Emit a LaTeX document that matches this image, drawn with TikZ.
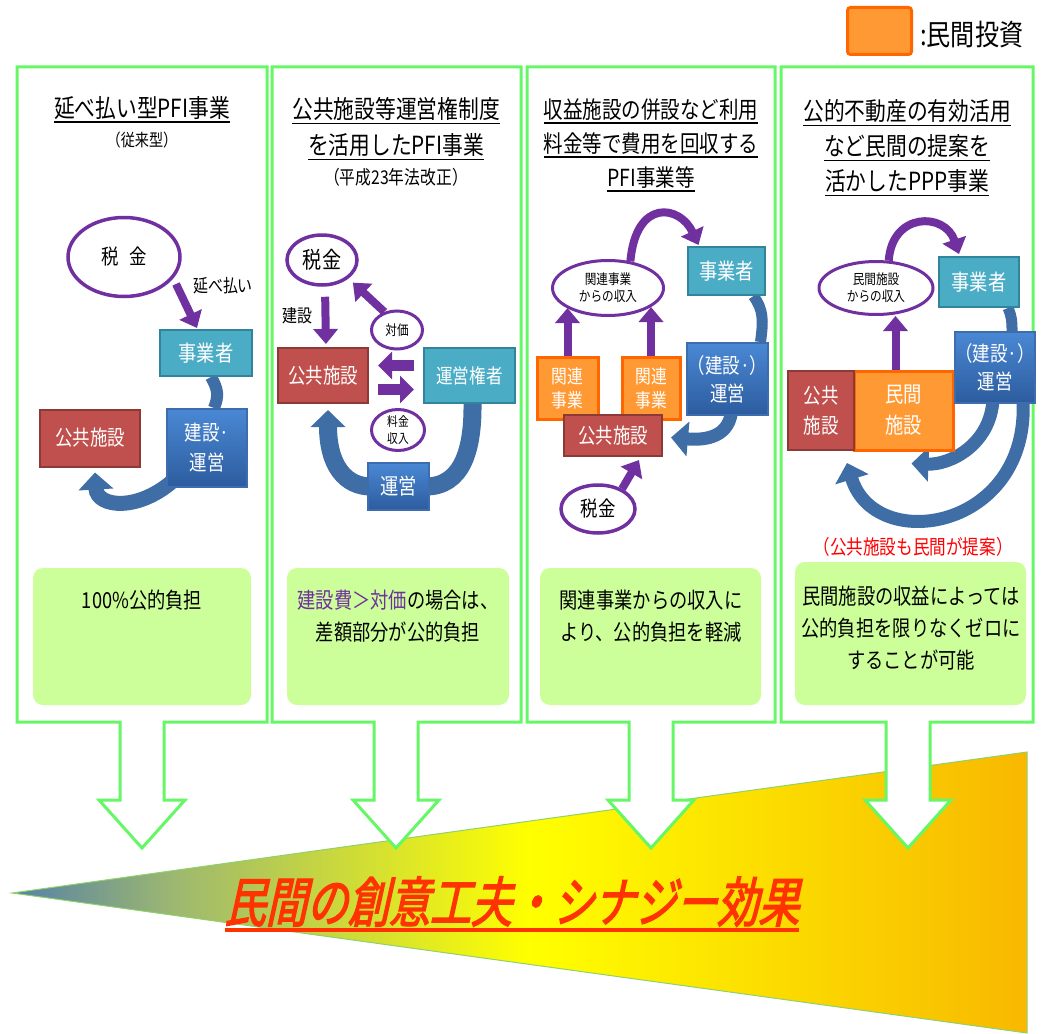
\documentclass[tikz,border=0pt]{standalone}
\usepackage{fontspec}
\setmainfont{Noto Sans CJK JP}[FakeStretch=0.83]
\newfontfamily\bigjp{Noto Sans CJK JP}[FakeStretch=0.76,FakeSlant=0.22,FakeBold=2.5]
\usetikzlibrary{shapes.geometric,arrows.meta,calc}
\definecolor{pgreen}{HTML}{66F766}
\definecolor{lgreen}{HTML}{CCFF99}
\definecolor{ppurple}{HTML}{7030A0}
\definecolor{cteal}{HTML}{4BACC6}
\definecolor{cteald}{HTML}{31849B}
\definecolor{cred}{HTML}{C0504D}
\definecolor{credd}{HTML}{8C3A38}
\definecolor{cblue1}{HTML}{4A88D4}
\definecolor{cblue2}{HTML}{2C5C9E}
\definecolor{cbluebd}{HTML}{3D6DAE}
\definecolor{cband}{HTML}{3F6DA6}
\definecolor{corange}{HTML}{FF9933}
\definecolor{corangebd}{HTML}{FF6600}
\definecolor{triblue}{HTML}{5580A8}
\definecolor{trimid}{HTML}{9DB870}
\definecolor{triyellow}{HTML}{FFFF00}
\definecolor{triorange}{HTML}{F8B800}
\definecolor{tredge}{HTML}{8FD16A}
\definecolor{cbig}{HTML}{FF3300}
\pgfdeclarehorizontalshading{tri}{100bp}{color(0bp)=(triblue); color(25bp)=(triblue); color(33bp)=(trimid); color(50.5bp)=(triyellow); color(75bp)=(triorange); color(100bp)=(triorange)}
\pgfdeclarelayer{bg}\pgfdeclarelayer{mid}\pgfsetlayers{bg,mid,main}
\newsavebox\ulbox
\newcommand\myul[1]{\sbox\ulbox{#1}\rlap{\rule[-5.5pt]{\wd\ulbox}{1.8pt}}\usebox\ulbox}
\newcommand\bigul[1]{\sbox\ulbox{#1}\rlap{\rule[-10pt]{\wd\ulbox}{4pt}}\usebox\ulbox}
\newcommand\mypanel[3]{\draw[panel] (#1,67) -- (#2,67) -- (#2,722) -- (#3+22,722) -- (#3+22,800) -- (#3+43,800) -- (#3,848) -- (#3-43,800) -- (#3-22,800) -- (#3-22,722) -- (#1,722) -- cycle;}
\tikzset{
 panel/.style={draw=pgreen, line width=3pt, fill=white, line join=miter},
 ttl/.style={align=center, font=\fontsize{25}{35}\selectfont, inner sep=0pt},
 subt/.style={font=\fontsize{17}{20}\selectfont, inner sep=0pt},
 bodytxt/.style={align=center, font=\fontsize{22}{32}\selectfont, inner sep=0pt},
 gbox/.style={fill=lgreen, rounded corners=10pt, draw=none, inner sep=0pt},
 pell/.style={ellipse, draw=ppurple, line width=3.5pt, fill=white, inner sep=0pt, align=center},
 bx/.style={rectangle, line width=2pt, text=white, align=center, inner sep=0pt, font=\fontsize{21}{27}\selectfont},
 tealbox/.style={bx, fill=cteal, draw=cteald},
 redbox/.style={bx, fill=cred, draw=credd},
 bluebox/.style={bx, top color=cblue1, bottom color=cblue2, draw=cbluebd},
 orbox/.style={bx, fill=corange, draw=corangebd, line width=3pt},
 parrow/.style={draw=ppurple, line width=8pt, -{Triangle[width=24pt,length=15pt]}},
 band/.style={draw=cband, line width=15pt},
 barrow/.style={band, -{Triangle[width=34pt,length=17pt]}},
}
\begin{document}
\begin{tikzpicture}[x=1pt,y=-1pt]
\useasboundingbox (0,0) rectangle (1041,1033);
\begin{pgfonlayer}{bg}
 \shade[shading=tri] (12,893) -- (1027,752) -- (1027,1033) -- cycle;
 \draw[tredge, line width=1pt] (12,893) -- (1027,752) -- (1027,1033) -- cycle;
 \mypanel{17}{267}{142}
 \mypanel{272}{521}{396}
 \mypanel{527}{775}{651}
 \mypanel{781}{1033}{908}
\end{pgfonlayer}

% legend
\node[draw=corangebd, fill=corange, line width=3pt, rounded corners=3pt, minimum width=64pt, minimum height=47pt, inner sep=0pt] (leg) at (879.5,31) {};
\node[anchor=west, font=\fontsize{29}{32}\selectfont, inner sep=0pt] (legt) at (920,35) {:民間投資};

% green boxes
\node[gbox, minimum width=218pt, minimum height=137pt] (g1) at (142,636.5) {};
\node[gbox, minimum width=222pt, minimum height=137pt] (g2) at (398,636.5) {};
\node[gbox, minimum width=221pt, minimum height=137pt] (g3) at (650.5,636.5) {};
\node[gbox, minimum width=231pt, minimum height=143pt] (g4) at (910.5,633.5) {};
\node[bodytxt] (b1) at (142,600) {100\%公的負担};
\node[bodytxt] (b2) at (398,616) {{\color{ppurple}建設費＞対価}の場合は、\\差額部分が公的負担};
\node[bodytxt] (b3) at (651,616) {関連事業からの収入に\\より、公的負担を軽減};
\node[bodytxt] (b4) at (911,628) {民間施設の収益によっては\\公的負担を限りなくゼロに\\することが可能};

% panel 1
\node[ttl] (t1) at (142,110) {\myul{延べ払い型PFI事業}};
\node[subt] (s1) at (142,140) {（従来型）};
\node[pell, minimum width=112pt, minimum height=79pt, font=\fontsize{21}{24}\selectfont] (tax1) at (124,257) {税\hspace{0.5em}金};
\node[font=\fontsize{18}{20}\selectfont, inner sep=0pt] (l1) at (223,286) {延べ払い};
\node[tealbox, minimum width=92pt, minimum height=46pt, font=\fontsize{22}{26}\selectfont] (jig1) at (206,353) {事業者};
\node[bluebox, minimum width=80pt, minimum height=78pt, font=\fontsize{21}{30}\selectfont] (ops1) at (207,448) {建設·\\運営};
\node[redbox, minimum width=100pt, minimum height=57pt] (pub1) at (90,438) {公共施設};
\coordinate (a1s) at (176,284);

% panel 2
\node[ttl, font=\fontsize{25}{36}\selectfont] (t2) at (396,129) {\myul{公共施設等運営権制度}\\\myul{を活用したPFI事業}};
\node[subt, font=\fontsize{19}{22}\selectfont] (s2) at (396,177) {（平成23年法改正）};
\node[pell, minimum width=70pt, minimum height=50pt, font=\fontsize{23}{26}\selectfont] (tax2) at (322,260) {税金};
\node[font=\fontsize{18}{20}\selectfont, inner sep=0pt] (l2) at (297,316) {建設};
\node[redbox, minimum width=90pt, minimum height=55pt] (pub2) at (323,375.5) {公共施設};
\node[tealbox, minimum width=91pt, minimum height=55pt, font=\fontsize{20}{24}\selectfont] (opr2) at (469.5,375.5) {運営権者};
\node[pell, minimum width=51pt, minimum height=38pt, line width=3pt, font=\fontsize{14}{16}\selectfont] (tp2) at (397,330) {対価};
\node[pell, minimum width=53pt, minimum height=37pt, line width=3pt, font=\fontsize{13}{17}\selectfont] (rev2) at (398,430) {料金\\収入};
\node[bluebox, minimum width=61pt, minimum height=47pt, font=\fontsize{22}{26}\selectfont] (ope2) at (398.5,486.5) {運営};

% panel 3
\node[ttl, font=\fontsize{23.5}{34}\selectfont] (t3) at (651,145) {\myul{収益施設の併設など利用}\\\myul{料金等で費用を回収する}\\\myul{PFI事業等}};
\node[pell, minimum width=111pt, minimum height=55pt, line width=3pt, font=\fontsize{14}{17}\selectfont] (inc3) at (608,288) {関連事業\\からの収入};
\node[tealbox, minimum width=77pt, minimum height=48pt, font=\fontsize{22}{26}\selectfont] (jig3) at (726.5,271) {事業者};
\node[orbox, minimum width=61pt, minimum height=62pt, font=\fontsize{19}{24}\selectfont] (rel3a) at (567.5,388) {関連\\事業};
\node[orbox, minimum width=58pt, minimum height=62pt, font=\fontsize{19}{24}\selectfont] (rel3b) at (651,388) {関連\\事業};
\node[bluebox, minimum width=81pt, minimum height=72pt, font=\fontsize{21}{28}\selectfont] (ops3) at (727.5,379) {（建設·）\\運営};
\node[redbox, minimum width=98pt, minimum height=41pt] (pub3) at (613,435.5) {公共施設};
\node[pell, minimum width=74pt, minimum height=48pt, font=\fontsize{21}{24}\selectfont] (tax3) at (598,509) {税金};

% panel 4
\node[ttl, font=\fontsize{25}{35}\selectfont] (t4) at (907,148) {\myul{公的不動産の有効活用}\\\myul{など民間の提案を}\\\myul{活かしたPPP事業}};
\node[pell, minimum width=114pt, minimum height=53pt, line width=3pt, font=\fontsize{14}{17}\selectfont] (inc4) at (876,288) {民間施設\\からの収入};
\node[tealbox, minimum width=80pt, minimum height=50pt, font=\fontsize{22}{26}\selectfont] (jig4) at (979,282) {事業者};
\node[orbox, minimum width=99pt, minimum height=79pt, font=\fontsize{22}{31}\selectfont] (priv4) at (903.5,410.5) {民間\\施設};
\node[redbox, minimum width=66pt, minimum height=79pt, font=\fontsize{21}{30}\selectfont] (pub4) at (821,410.5) {公共\\施設};
\node[bluebox, minimum width=76pt, minimum height=71pt, font=\fontsize{21}{28}\selectfont] (ops4) at (995,367.5) {（建設·）\\運営};
\node[text=red, font=\fontsize{20}{23}\selectfont, inner sep=0pt] (note4) at (913,547) {（公共施設も民間が提案）};
\coordinate (u4) at ($(priv4.north)+(-8,0)$);

% big text
\node[anchor=base, text=cbig, font=\bigjp\fontsize{54}{60}\selectfont, inner sep=0pt] (big) at (512,922) {\bigul{民間の創意工夫・シナジー効果}};

\begin{pgfonlayer}{mid}
 % panel 1
 \draw[parrow] (a1s) -- ([xshift=-9pt,yshift=1pt]jig1.north);
 \draw[band, line width=12pt] ([xshift=5pt]jig1.south) .. controls +(7,12) and +(5,-12) .. ([xshift=7pt]ops1.north);
 \draw[barrow] ([xshift=10pt,yshift=10pt]ops1.south west) .. controls (140,512) and (97,508) .. ([xshift=5pt,yshift=-5pt]pub1.south);
 % panel 2
 \draw[parrow, shorten <=10pt, shorten >=3pt] ([xshift=3pt]tax2.south) -- ([xshift=3pt]pub2.north);
 \draw[parrow, shorten >=6pt] (tp2.125) -- (tax2.-35);
 \draw[parrow, line width=11pt, -{Triangle[width=27pt,length=14pt]}, shorten <=9pt, shorten >=9pt] ([yshift=10pt]opr2.west) -- ([yshift=10pt]pub2.east);
 \draw[parrow, line width=11pt, -{Triangle[width=27pt,length=14pt]}, shorten <=9pt, shorten >=9pt] ([yshift=-14pt]pub2.east) -- ([yshift=-14pt]opr2.west);
 \draw[band, line width=18pt] ([xshift=3pt]opr2.south) .. controls (473,450) and (462,487) .. ([xshift=-5pt]ope2.east);
 \draw[barrow, line width=18pt] ([xshift=5pt]ope2.west) .. controls (345,487) and (328,465) .. ([xshift=5pt,yshift=-6pt]pub2.south);
 % panel 3
 \draw[parrow] (inc3.50) .. controls (636,198) and (680,205) .. ([xshift=-28pt,yshift=1pt]jig3.north);
 \draw[parrow] (rel3a.north) -- ($(rel3a.north |- inc3.south)+(0,-9)$);
 \draw[parrow] (rel3b.north) -- ($(rel3b.north |- inc3.south)+(0,-10)$);
 \draw[band, line width=11pt] ([xshift=27pt]jig3.south) .. controls +(10,14) and +(3,-22) .. ([xshift=33pt]ops3.north);
 \draw[barrow, line width=13pt] ([xshift=4pt,yshift=4pt]ops3.south) .. controls (728,440) and (700,440) .. ([xshift=8pt,yshift=-2pt]pub3.east);
 \draw[parrow] (tax3.40) -- ([xshift=26pt,yshift=-3pt]pub3.south);
 % panel 4
 \draw[parrow] (inc4.65) .. controls (892,212) and (945,212) .. ([xshift=-20pt,yshift=2pt]jig4.north);
 \draw[parrow] (u4) -- (u4 |- inc4.south);
 \draw[band, line width=11pt] ([xshift=29pt]jig4.south) .. controls +(4,9) and +(0,-9) .. ([xshift=17pt]ops4.north);
 \draw[barrow, line width=13pt] ([xshift=-2pt,yshift=4pt]ops4.south) .. controls (990,445) and (950,465) .. ([xshift=8pt,yshift=-12pt]priv4.south);
 \draw[barrow, line width=13pt] ([xshift=28pt,yshift=4pt]ops4.south) .. controls (1030,530) and (875,555) .. ([xshift=26pt,yshift=-12pt]pub4.south);
\end{pgfonlayer}
\end{tikzpicture}
\end{document}
